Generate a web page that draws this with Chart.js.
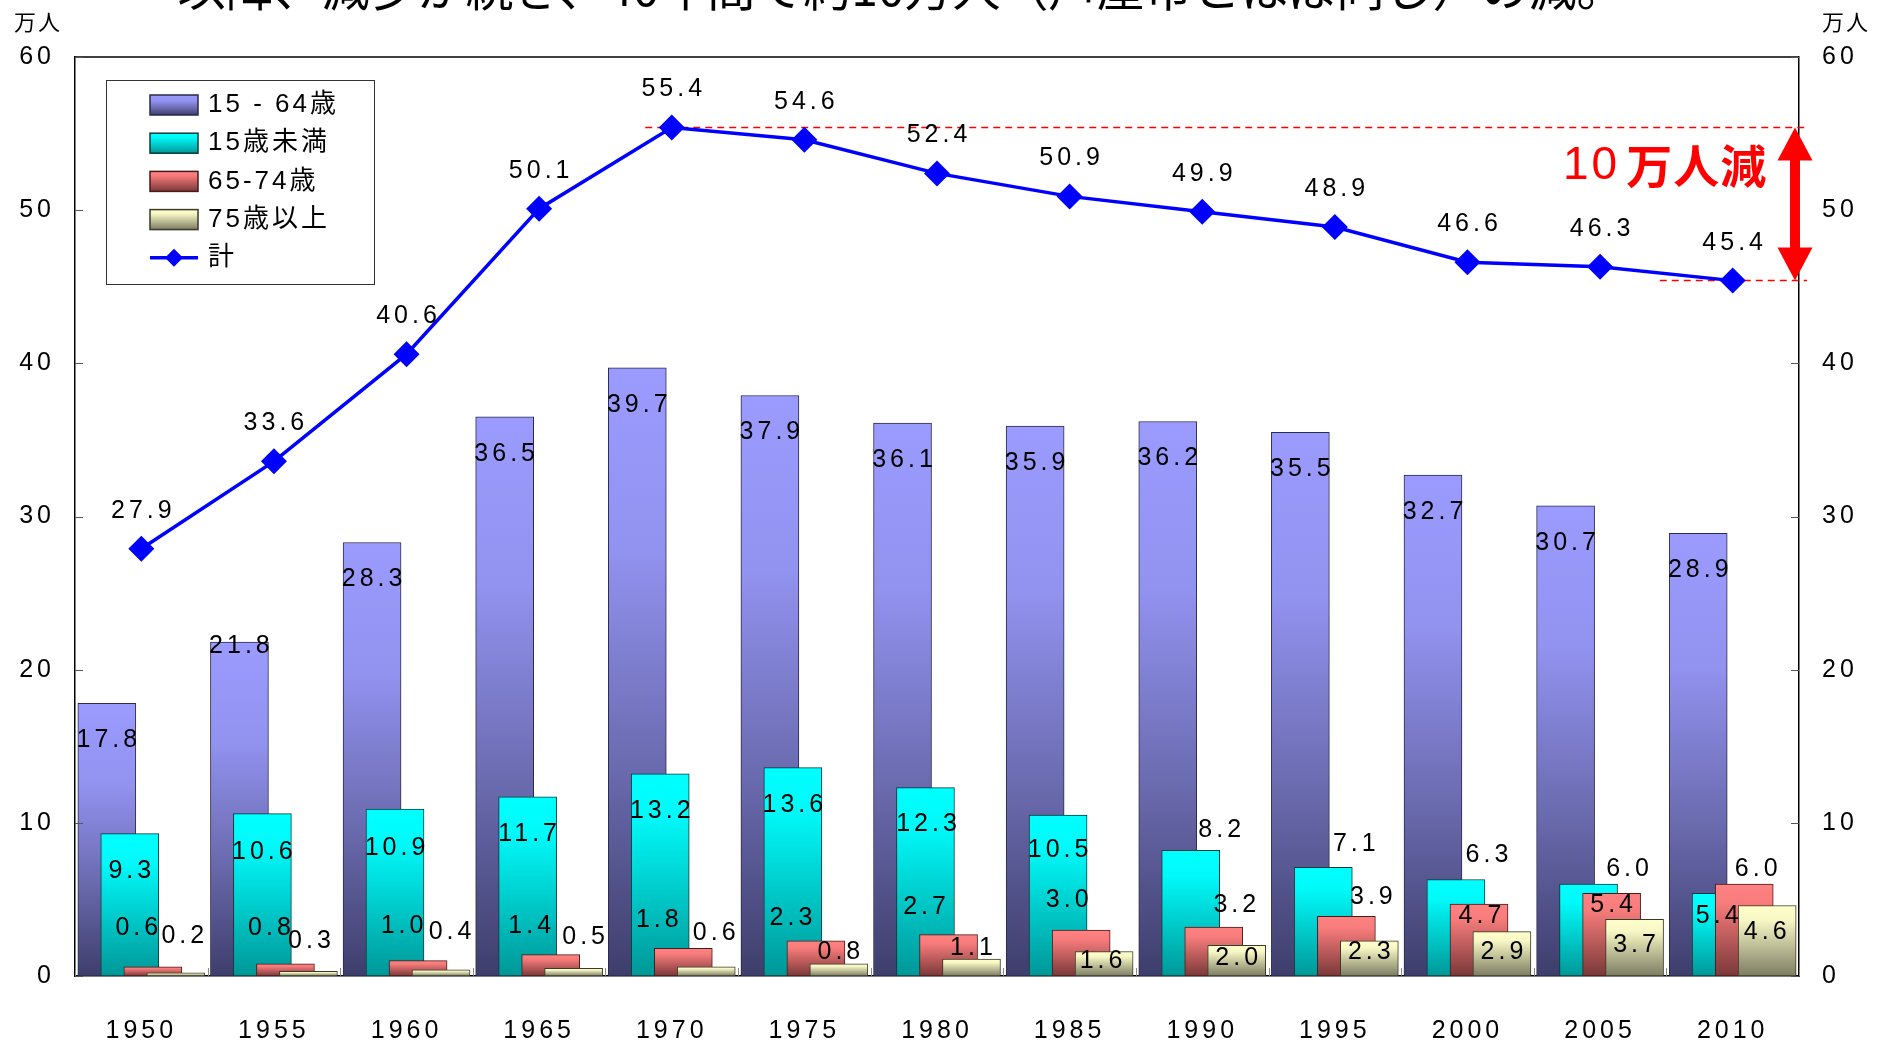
<!DOCTYPE html>
<html lang="ja">
<head>
    <meta charset="UTF-8">
    <title>年齢別人口の推移</title>
    <style>
        html, body { margin: 0; padding: 0; background: #fff; }
        #popChart { display: block; }
    </style>
</head>
<body>
    <canvas id="popChart" width="1892" height="1044"></canvas>
    <script src="https://cdn.jsdelivr.net/npm/chart.js@4"></script>
    <script>
        // --- data (万人) ---
        const years = ['1950', '1955', '1960', '1965', '1970', '1975', '1980', '1985', '1990', '1995', '2000', '2005', '2010'];
        const age15to64 = [17.8, 21.8, 28.3, 36.5, 39.7, 37.9, 36.1, 35.9, 36.2, 35.5, 32.7, 30.7, 28.9];
        const under15 = [9.3, 10.6, 10.9, 11.7, 13.2, 13.6, 12.3, 10.5, 8.2, 7.1, 6.3, 6.0, 5.4];
        const age65to74 = [0.6, 0.8, 1.0, 1.4, 1.8, 2.3, 2.7, 3.0, 3.2, 3.9, 4.7, 5.4, 6.0];
        const age75over = [0.2, 0.3, 0.4, 0.5, 0.6, 0.8, 1.1, 1.6, 2.0, 2.3, 2.9, 3.7, 4.6];
        const total = [27.9, 33.6, 40.6, 50.1, 55.4, 54.6, 52.4, 50.9, 49.9, 48.9, 46.6, 46.3, 45.4];
        const seriesNames = ['15 - 64歳', '15歳未満', '65-74歳', '75歳以上', '計'];
        const yMin = 0, yMax = 60, yStep = 10;
        const unitLabel = '万人';
        const titleText = '以降、減少が続き、40年間で約10万人（芦屋市とほぼ同じ）の減。';
        const noteNumber = '10';
        const noteWord = '万人減';

        // --- styling ---
        const FONT = "'Liberation Sans', 'Noto Sans CJK JP', sans-serif";
        const CJK = "'Noto Sans CJK JP', 'Liberation Sans', sans-serif";
        const barShift = [-0.26, -0.087, 0.087, 0.26];
        const shades = [
            [[0, '#9b9bff'], [0.3, '#9292f0'], [0.65, '#6b6bb0'], [1, '#3e3e6c']],
            [[0, '#00ffff'], [0.2, '#00fafa'], [1, '#009797']],
            [[0, '#ff8282'], [0.2, '#f87c7c'], [1, '#7a3838']],
            [[0, '#ffffcc'], [0.2, '#f8f8c6'], [1, '#7c7c62']]
        ];
        const borders = ['#2a2a4a', '#0b3b3b', '#4a1a1a', '#3a3a2a'];

        // label nudges [dx, dy] in px from the bar top / point centre
        const labelNudge = [
            age15to64.map((v, i) => i === 1 ? [0, 4] : [0, 37]),
            [[0, 38], [0, 38], [0, 39], [0, 37], [0, 37], [0, 37], [1, 37], [0, 35], [29, -20], [31, -23], [31, -24], [39, -15], [-4, 23]],
            [[-16, -39], [-16, -36], [-16, -35], [-21, -28], [-26, -28], [-25, -23], [-24, -28], [-14, -30], [21, -22], [25, -19], [1, 12], [0, 12], [12, -15]],
            [[7, -37], [1, -30], [9, -38], [10, -31], [8, -34], [0, -12], [0, -11], [-3, 10], [0, 13], [0, 11], [0, 21], [0, 26], [-2, 27]],
            total.map(() => [0, -38])
        ];

        function vgrad(ctx, yTop, yBottom, stops) {
            const g = ctx.createLinearGradient(0, yTop, 0, yBottom);
            stops.forEach(s => g.addColorStop(s[0], s[1]));
            return g;
        }

        function barFill(stops) {
            return c => {
                const chart = c.chart;
                if (c.type !== 'data' || !chart.chartArea || !c.parsed) return stops[0][1];
                const y = chart.scales.y;
                return vgrad(chart.ctx, y.getPixelForValue(c.parsed.y), y.getPixelForValue(0), stops);
            };
        }

        const barSeries = [age15to64, under15, age65to74, age75over];
        const datasets = barSeries.map((vals, k) => ({
            type: 'bar',
            label: seriesNames[k],
            data: vals.map((v, i) => ({ x: i + barShift[k], y: v })),
            backgroundColor: barFill(shades[k]),
            borderColor: borders[k],
            borderWidth: 1,
            borderSkipped: false,
            barThickness: 58,
            grouped: false,
            order: 4 - k
        }));
        datasets.push({
            type: 'line',
            label: seriesNames[4],
            data: total.map((v, i) => ({ x: i, y: v })),
            borderColor: '#0000ff',
            backgroundColor: '#0000ff',
            borderWidth: 3.5,
            pointStyle: 'rectRot',
            pointRadius: 13,
            pointBorderWidth: 0,
            tension: 0,
            order: 0
        });

        function line(ctx, x1, y1, x2, y2) {
            ctx.beginPath();
            ctx.moveTo(x1, y1);
            ctx.lineTo(x2, y2);
            ctx.stroke();
        }

        const decor = {
            id: 'decor',
            beforeDraw(chart) {
                const ctx = chart.ctx;
                ctx.save();
                ctx.fillStyle = '#fff';
                ctx.fillRect(0, 0, chart.width, chart.height);
                ctx.restore();
                ctx.letterSpacing = '4px';
            },
            beforeDatasetsDraw(chart) {
                const ctx = chart.ctx, x = chart.scales.x, y = chart.scales.y, area = chart.chartArea;
                const peak = total.indexOf(Math.max(...total));
                const last = total.length - 1;
                ctx.save();
                ctx.strokeStyle = '#ff0000';
                ctx.lineWidth = 1.5;
                ctx.setLineDash([7, 5]);
                line(ctx, x.getPixelForValue(peak - 0.2), y.getPixelForValue(total[peak]), area.right + 10, y.getPixelForValue(total[peak]));
                line(ctx, x.getPixelForValue(last - 0.55), y.getPixelForValue(total[last]), area.right + 8, y.getPixelForValue(total[last]));
                ctx.restore();
            },
            afterDatasetsDraw(chart) {
                const ctx = chart.ctx;
                const allSeries = [...barSeries, total];
                ctx.save();
                ctx.font = `25px ${FONT}`;
                ctx.letterSpacing = '4px';
                ctx.fillStyle = '#000';
                ctx.textAlign = 'center';
                ctx.textBaseline = 'middle';
                allSeries.forEach((vals, k) => {
                    const meta = chart.getDatasetMeta(k);
                    vals.forEach((v, i) => {
                        const el = meta.data[i];
                        const n = labelNudge[k][i];
                        ctx.fillText(v.toFixed(1), el.x + n[0] + 2, el.y + n[1]);
                    });
                });
                ctx.restore();
            },
            afterDraw(chart) {
                const ctx = chart.ctx, x = chart.scales.x, y = chart.scales.y, area = chart.chartArea;
                ctx.save();
                // top frame line
                ctx.strokeStyle = '#000';
                ctx.lineWidth = 1.5;
                line(ctx, area.left, area.top, area.right, area.top);
                // inside tick marks
                ctx.strokeStyle = '#555';
                ctx.lineWidth = 1;
                y.ticks.forEach(t => {
                    const py = Math.round(y.getPixelForValue(t.value)) + 0.5;
                    line(ctx, area.left, py, area.left + 8, py);
                    line(ctx, area.right - 8, py, area.right, py);
                });
                ctx.strokeStyle = '#888';
                for (let k = 0; k <= years.length; k++) {
                    const px = Math.round(x.getPixelForValue(k - 0.5)) + 0.5;
                    line(ctx, px, area.bottom, px, area.bottom - 8);
                }

                // unit labels
                ctx.fillStyle = '#000';
                ctx.font = `22px ${CJK}`;
                ctx.letterSpacing = '2px';
                ctx.textAlign = 'left';
                ctx.textBaseline = 'middle';
                ctx.fillText(unitLabel, 14, 22);
                ctx.fillText(unitLabel, area.right + 23, 22);

                // title (clipped at the top edge)
                ctx.font = `48px ${CJK}`;
                ctx.letterSpacing = '0px';
                ctx.textAlign = 'center';
                ctx.textBaseline = 'alphabetic';
                ctx.fillText(titleText, 901, 6);

                // legend
                const lx = 106, ly = 80, lw = 268, lh = 204;
                ctx.fillStyle = '#fff';
                ctx.fillRect(lx, ly, lw, lh);
                ctx.strokeStyle = '#333';
                ctx.lineWidth = 1;
                ctx.strokeRect(lx + 0.5, ly + 0.5, lw, lh);
                ctx.font = `26px ${FONT}`;
                ctx.letterSpacing = '3px';
                ctx.textAlign = 'left';
                ctx.textBaseline = 'middle';
                seriesNames.forEach((name, k) => {
                    const ry = ly + 25 + k * 38.2;
                    if (k < 4) {
                        ctx.fillStyle = vgrad(ctx, ry - 10, ry + 10, shades[k]);
                        ctx.fillRect(150, ry - 10, 48, 20);
                        ctx.strokeStyle = borders[k];
                        ctx.lineWidth = 1.5;
                        ctx.strokeRect(150, ry - 10, 48, 20);
                    } else {
                        ctx.strokeStyle = '#0000ff';
                        ctx.lineWidth = 3.5;
                        line(ctx, 150, ry, 198, ry);
                        ctx.fillStyle = '#0000ff';
                        ctx.beginPath();
                        ctx.moveTo(174 - 9, ry);
                        ctx.lineTo(174, ry - 9);
                        ctx.lineTo(174 + 9, ry);
                        ctx.lineTo(174, ry + 9);
                        ctx.closePath();
                        ctx.fill();
                    }
                    ctx.fillStyle = '#000';
                    ctx.fillText(name, 208, ry);
                });

                // double arrow for the decrease
                const peak = Math.max(...total);
                const yTop = y.getPixelForValue(peak);
                const yBot = y.getPixelForValue(total[total.length - 1]);
                const ax = area.right - 4, hw = 17.5, hl = 33, sw = 5;
                ctx.fillStyle = '#ff0000';
                ctx.beginPath();
                ctx.moveTo(ax, yTop);
                ctx.lineTo(ax + hw, yTop + hl);
                ctx.lineTo(ax + sw, yTop + hl);
                ctx.lineTo(ax + sw, yBot - hl);
                ctx.lineTo(ax + hw, yBot - hl);
                ctx.lineTo(ax, yBot);
                ctx.lineTo(ax - hw, yBot - hl);
                ctx.lineTo(ax - sw, yBot - hl);
                ctx.lineTo(ax - sw, yTop + hl);
                ctx.lineTo(ax - hw, yTop + hl);
                ctx.closePath();
                ctx.fill();

                // "10万人減"
                ctx.textBaseline = 'middle';
                ctx.textAlign = 'left';
                ctx.font = `46px ${FONT}`;
                ctx.letterSpacing = '3px';
                ctx.fillText(noteNumber, 1563, 166);
                const nw = ctx.measureText(noteNumber).width;
                ctx.font = `bold 46px ${CJK}`;
                ctx.letterSpacing = '1px';
                ctx.fillText(noteWord, 1563 + nw + 6, 166);
                ctx.restore();
            }
        };

        const tickFont = { family: FONT, size: 25 };
        const yAxis = (position, width, pad) => ({
            type: 'linear',
            position: position,
            min: yMin,
            max: yMax,
            grid: { display: false, drawTicks: false },
            border: { display: true, color: '#000', width: 1.5 },
            ticks: { stepSize: yStep, color: '#000', font: tickFont, padding: pad },
            afterFit(scale) { scale.width = width; }
        });

        new Chart(document.getElementById('popChart'), {
            type: 'bar',
            data: { datasets: datasets },
            options: {
                responsive: false,
                devicePixelRatio: 1,
                animation: false,
                layout: { padding: { top: 57, left: 0, right: 0, bottom: 0 } },
                plugins: { legend: { display: false }, tooltip: { enabled: false }, title: { display: false } },
                scales: {
                    x: {
                        type: 'linear',
                        min: -0.5,
                        max: years.length - 0.5,
                        offset: false,
                        grid: { display: false, drawTicks: false, offset: false },
                        border: { display: true, color: '#000', width: 1.5 },
                        afterBuildTicks(scale) {
                            scale.ticks = years.map((yr, i) => ({ value: i }));
                        },
                        ticks: {
                            autoSkip: false,
                            maxRotation: 0,
                            color: '#000',
                            font: tickFont,
                            padding: 40,
                            callback: (v, i) => years[i]
                        },
                        afterFit(scale) { scale.height = 68; }
                    },
                    y: yAxis('left', 75, 20),
                    y2: yAxis('right', 93, 23)
                }
            },
            plugins: [decor]
        });
    </script>
</body>
</html>
